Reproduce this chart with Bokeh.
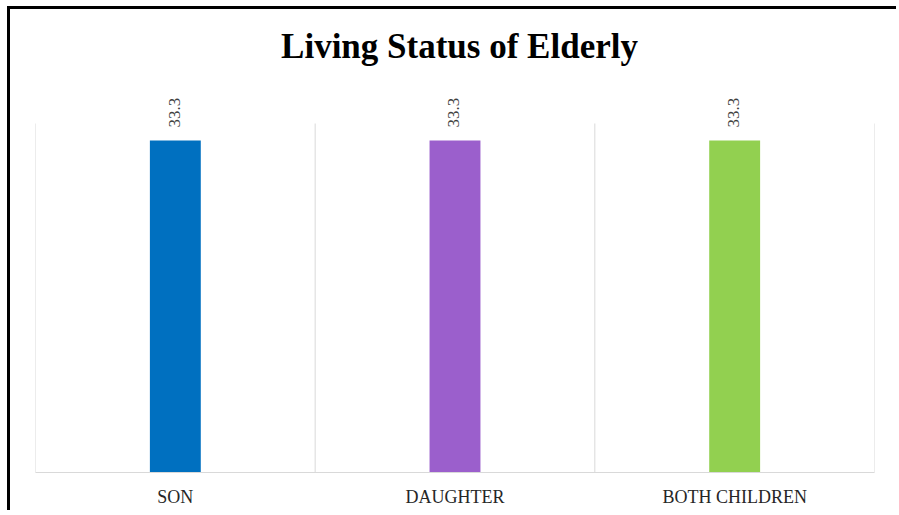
import math
from bokeh.plotting import figure
from bokeh.models import Range1d, FixedTicker, Label, LabelSet, ColumnDataSource
from bokeh.embed import file_html
from bokeh.resources import INLINE

categories = ["SON", "DAUGHTER", "BOTH CHILDREN"]
percent = [33.3, 33.3, 33.3]
bar_labels = ["33.3", "33.3", "33.3"]
colors = ["#0070C0", "#9B5FCC", "#92D050"]
y_max = 35
title_text = "Living Status of Elderly"

xs = [i + 0.5 for i in range(len(categories))]
bounds = list(range(len(categories) + 1))
src = ColumnDataSource(dict(x=xs, top=percent, label=bar_labels, color=colors))

W, H = 889, 504
border_top, border_bottom = 5, 41
plot_px = 349  # pixel height of the 0..y_max value area
frame_h = H - border_top - border_bottom
y_top = y_max * frame_h / plot_px

p = figure(width=W, height=H, output_backend="svg", toolbar_location=None,
           x_range=Range1d(0, len(categories)), y_range=Range1d(0, y_top),
           min_border_left=25, min_border_right=25, min_border_top=border_top,
           min_border_bottom=border_bottom)
p.styles = {"border-left": "3px solid black", "border-top": "3px solid black",
            "margin-left": "7px", "margin-top": "6px"}

p.outline_line_color = None
p.xgrid.visible = False
p.ygrid.visible = False
p.yaxis.visible = False

p.segment(x0=bounds, y0=[0] * len(bounds), x1=bounds, y1=[y_max] * len(bounds),
          line_color="#d9d9d9", line_width=1)

p.xaxis.ticker = FixedTicker(ticks=xs)
p.xaxis.major_label_overrides = {x: c for x, c in zip(xs, categories)}
p.xaxis.axis_line_color = "#d9d9d9"
p.xaxis.major_tick_line_color = None
p.xaxis.minor_tick_line_color = None
p.xaxis.major_label_standoff = 8
p.xaxis.major_label_text_font = "Liberation Serif"
p.xaxis.major_label_text_font_size = "18px"
p.xaxis.major_label_text_color = "#262626"

p.vbar(x="x", top="top", bottom=0, width=0.182, fill_color="color",
       line_color=None, source=src)

p.add_layout(LabelSet(x="x", y="top", text="label", angle=math.pi / 2,
                      text_align="left", text_baseline="middle", y_offset=13,
                      x_offset=-1, text_font="Open Sans", text_font_size="17px",
                      text_color="#404040", source=src))

p.add_layout(Label(x=424, y=426, x_units="screen", y_units="screen",
                   text=title_text, text_align="center",
                   text_baseline="alphabetic", text_font="Liberation Serif",
                   text_font_style="bold", text_font_size="35px",
                   text_color="#000000"))

open("out.html", "w").write(file_html(p, INLINE))
